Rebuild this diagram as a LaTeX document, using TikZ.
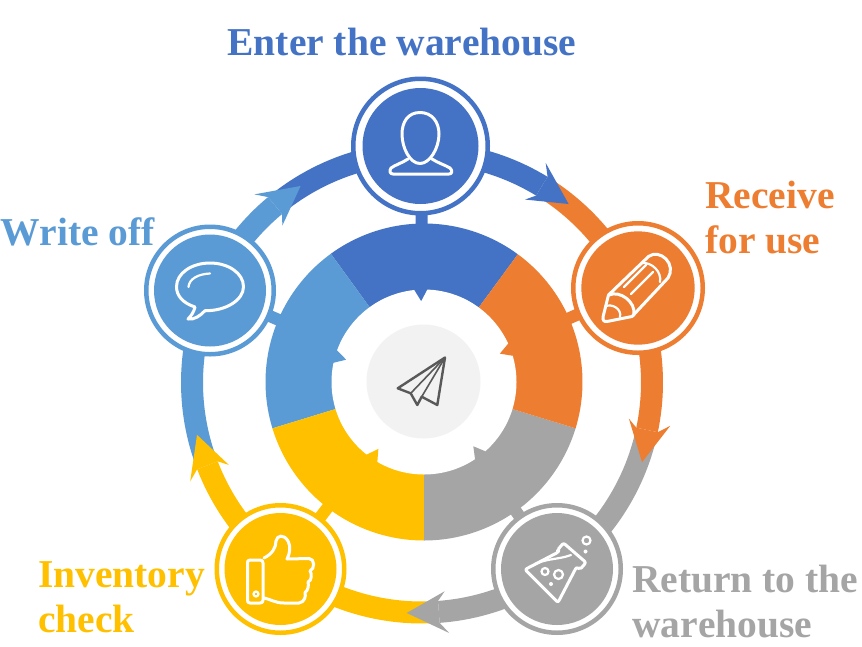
\documentclass[tikz,border=0pt]{standalone}
\usepackage{fontspec}
\setmainfont[Kerning=Off]{Liberation Serif}
\definecolor{cblue}{HTML}{4472C4}
\definecolor{corange}{HTML}{ED7D31}
\definecolor{cgray}{HTML}{A5A5A5}
\definecolor{cyellow}{HTML}{FFC000}
\definecolor{clight}{HTML}{5B9BD5}
\definecolor{chub}{HTML}{F2F2F2}
\definecolor{cplane}{HTML}{595959}
% ring centre 422,382.5 ; donut centre 424,382
\newcommand{\RP}[2]{({422+(#1)*cos(#2)},{382.5-(#1)*sin(#2)})}
\newcommand{\DP}[2]{({424+(#1)*cos(#2)},{382-(#1)*sin(#2)})}
% colour, from, to
\newcommand{\ringband}[3]{\fill[#1] plot[domain=#2:#3,samples=50,variable=\t]({422+241*cos(\t)},{382.5-241*sin(\t)}) -- plot[domain=#3:#2,samples=50,variable=\t]({422+219*cos(\t)},{382.5-219*sin(\t)}) -- cycle;}
% colour, tip angle, tip radius
\newcommand{\headtip}[3]{\fill[#1] \RP{#3}{#2} -- \RP{252}{#2+10} -- \RP{241}{#2+8} -- \RP{219}{#2+8} -- \RP{210}{#2+10} -- cycle;}
% colour, from, to
\newcommand{\donutpart}[3]{\fill[#1] (424,382) -- plot[domain=#2:#3,samples=40,variable=\t]({424+158.5*cos(\t)},{382-158.5*sin(\t)}) -- cycle;}
% colour, angle
\newcommand{\barbtip}[2]{\fill[#1] \DP{95}{#2+4} -- \DP{92.5}{#2+4} -- \DP{81}{#2} -- \DP{92.5}{#2-4} -- \DP{95}{#2-4} -- cycle;}
\tikzset{
  stage/.style={circle,draw=#1,fill=white,line width=4.5pt,minimum size=127.5pt,inner sep=0pt},
  label text/.style={text=#1,font=\bfseries\fontsize{39.5}{45}\selectfont,align=left,inner sep=0pt},
  spoke/.style={draw=#1,line width=12pt},
  icon/.style={draw=white,line width=3pt,line join=round,line cap=round},
  thin icon/.style={draw=white,line width=2.2pt,line join=round,line cap=round},
  plane/.style={draw=cplane,line width=2.4pt,line join=round,line cap=round}
}
\begin{document}
\begin{tikzpicture}[x=1pt,y=-1pt]
\useasboundingbox (0,0) rectangle (862,646);
\fill[white] (0,0) rectangle (862,646);
\coordinate (donut) at (424,382);
\coordinate (p1) at (420.5,146);
\coordinate (p2) at (638,288);
\coordinate (p3) at (557,569);
\coordinate (p4) at (280.5,569);
\coordinate (p5) at (210,290.5);
% spokes
\draw[spoke=cblue] (donut) -- (p1);
\draw[spoke=corange] (donut) -- (p2);
\draw[spoke=cgray] (donut) -- (p3);
\draw[spoke=cyellow] (donut) -- (p4);
\draw[spoke=clight] (donut) -- (p5);
% donut
\donutpart{cblue}{53.7}{126}
\donutpart{clight}{126}{197}
\donutpart{cyellow}{197}{270}
\donutpart{cgray}{270}{343}
\donutpart{corange}{343}{413.7}
\fill[white] (424,382) circle (92.5pt);
\barbtip{cblue}{92}
\barbtip{corange}{20.5}
\barbtip{cgray}{-52.5}
\barbtip{cyellow}{-124.3}
\barbtip{clight}{164}
\node[circle,fill=chub,minimum size=114pt,inner sep=0pt] (hub) at (423.5,381.5) {};
% outer ring
\ringband{cblue}{128.7}{58.6}
\ringband{corange}{57.6}{-11.9}
\ringband{cgray}{-12.9}{-85.8}
\ringband{cyellow}{-86.8}{-158.9}
\ringband{clight}{200.1}{129.7}
\headtip{cblue}{50.6}{231}
\headtip{corange}{-19.9}{234}
\headtip{cgray}{266.2}{231}
\headtip{cyellow}{193.1}{231}
\headtip{clight}{121.7}{231}
% stages
\node[stage=cblue,minimum size=134.5pt] (n1) at (p1) {};
\node[stage=corange,minimum size=129.5pt] (n2) at (p2) {};
\node[stage=cgray] (n3) at (p3) {};
\node[stage=cyellow] (n4) at (p4) {};
\node[stage=clight] (n5) at (p5) {};
\fill[cblue] (n1.center) circle (58pt);
\fill[corange] (n2.center) circle (56.7pt);
\fill[cgray] (n3.center) circle (56pt);
\fill[cyellow] (n4.center) circle (56pt);
\fill[clight] (n5.center) circle (56pt);
% person
\draw[icon] (420,112.5) .. controls (408,112.5) and (402,122) .. (402,134) .. controls (402,148) and (410,163.5) .. (420,163.5) .. controls (430,163.5) and (439,148) .. (439,134) .. controls (439,122) and (432,112.5) .. (420,112.5) -- cycle;
\draw[icon] (408,159) .. controls (402,163) and (395,165) .. (391,168) .. controls (389,171) and (390,174) .. (393,174) -- (449,174) .. controls (452,174) and (453,171) .. (450,168) .. controls (445,165) and (438,163) .. (432,159);
% pencil
\draw[icon] (648.5,256.5) .. controls (654,252.5) and (661,254) .. (666,259) .. controls (671,264) and (672,272) .. (668,278) -- (632,316.5) -- (607,321.5) .. controls (604,322) and (602.5,320) .. (603,317) -- (608.5,295) -- cycle;
\draw[thin icon] (642,263) .. controls (652,262) and (662,272) .. (660,282);
\draw[icon] (609,295) .. controls (620,290) and (636,302) .. (634,315);
\draw[thin icon] (605,306.5) .. controls (612,303) and (622,309) .. (620,317);
\draw[thin icon] (624,287) -- (646,265);
\draw[thin icon] (631,294) -- (653,272);
% flask
\draw[icon,rounded corners=2pt] (525,569.5) -- (558.5,552) -- (557.5,550) -- (563.5,543) -- (586,562.5) -- (580,569.5) -- (576.5,567) -- (558,602.5) -- cycle;
\draw[thin icon] (533,565.5) .. controls (545,558) and (558,560) .. (571,555);
\draw[thin icon] (545,571.5) circle (3.5pt);
\draw[thin icon] (558.5,574.5) circle (4.5pt);
\fill[white] (551,584) circle (2pt);
\draw[thin icon] (586.5,540.5) circle (4pt);
\fill[white] (585.5,551.5) circle (2pt);
% thumb
\draw[icon] (250,560) -- (260,560) .. controls (262,560) and (263,561) .. (263,563) -- (263,600) .. controls (263,602) and (262,603) .. (260,603) -- (250,603) .. controls (248,603) and (247.5,602) .. (247.5,600) -- (247.5,563) .. controls (247.5,561) and (248,560) .. (250,560) -- cycle;
\draw[thin icon] (256,594) circle (2.5pt);
\draw[icon] (264,558) .. controls (272,554) and (276,548) .. (276,541) .. controls (277,535) and (284,534) .. (288,541) .. controls (291,547) and (290,553) .. (287,559) -- (309,558.5) .. controls (315,558.5) and (315,569) .. (310,571) .. controls (312,573) and (312,581) .. (308,582) .. controls (309,585) and (308,591) .. (305,592.5) .. controls (306,596) and (305,602) .. (299,603) -- (284,603) .. controls (275,603) and (270,599) .. (264,598);
% speech bubble
\draw[icon] (205,310.7) .. controls (226,311) and (243.5,300) .. (243.5,286.7) .. controls (243.5,273) and (228,263) .. (210,263) .. controls (192,263) and (176.5,273) .. (176.5,286.7) .. controls (176.5,296) and (183,303) .. (195,307) .. controls (194,312) and (191,316) .. (188,319) .. controls (194,320) and (200,316) .. (205,310.7) -- cycle;
\draw[thin icon] (188.5,287) .. controls (189,279) and (198,274) .. (210,273.5);
% plane
\draw[plane] (445,357.5) -- (397.7,388.3) -- (410.7,393.3) -- (417.3,405) -- (421.7,396.7) -- (437.3,405) -- cycle;
\draw[plane,line width=1.6pt] (445,357.5) -- (410.7,393.3);
\draw[plane,line width=1.6pt] (445,357.5) -- (421.7,396.7);
% labels
\node[label text=cblue,anchor=base] (t1) at (402,55) {Enter the warehouse};
\node[label text=corange,anchor=base west] (t2) at (705,208) {Receive};
\node[label text=corange,anchor=base west] (t2b) at (705,253) {for use};
\node[label text=cgray,anchor=base west] (t3) at (632,592) {Return to the};
\node[label text=cgray,anchor=base west] (t3b) at (632,637) {warehouse};
\node[label text=cyellow,anchor=base west] (t4) at (38,587) {Inventory};
\node[label text=cyellow,anchor=base west] (t4b) at (38,632) {check};
\node[label text=clight,anchor=base west] (t5) at (0,245) {Write off};
\end{tikzpicture}
\end{document}
